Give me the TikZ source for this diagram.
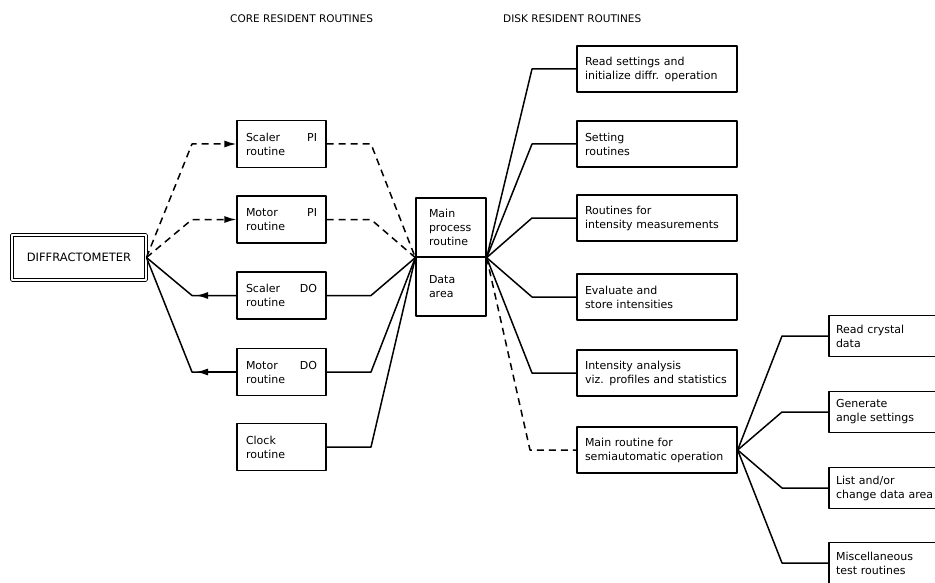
\documentclass[tikz,border=0pt]{standalone}
\usepackage{fontspec}
\setmainfont{DejaVu Sans}
\usetikzlibrary{arrows.meta}
\begin{document}
\begin{tikzpicture}[x=1pt,y=-1pt,line join=round,
  box/.style={draw, line width=1.3pt, align=left, anchor=center, font=\fontsize{11}{14}\selectfont, inner ysep=0pt},
  corebox/.style={box, text width=71pt, inner xsep=9pt, minimum height=47pt},
  diskbox/.style={box, text width=144pt, inner xsep=8pt, minimum height=46pt},
  subbox/.style={box, text width=107pt, inner xsep=7pt, minimum height=41pt},
  mainbox/.style={box, text width=44pt, inner xsep=13pt, minimum height=59pt},
  conn/.style={line width=1.5pt},
  dconn/.style={conn, dash pattern=on 7pt off 5pt},
  tipend/.style={-{Latex[length=12pt,width=7pt]}},
  title/.style={font=\fontsize{10.5}{12}\selectfont, anchor=west, inner sep=0pt}
]
\useasboundingbox (0,0) rectangle (935,583);
\clip (0,0) rectangle (935,583);

% titles
\node[title] (t1) at (230,19) {CORE RESIDENT ROUTINES};
\node[title] (t2) at (503,19) {DISK RESIDENT ROUTINES};

% diffractometer
\node[draw, double, double distance=2pt, line width=0.9pt, minimum width=134pt, minimum height=45pt, inner sep=0pt, font=\fontsize{11.5}{14}\selectfont] (diff) at (79,257.5) {DIFFRACTOMETER};

% core resident
\node[corebox] (spi) at (281.5,144) {Scaler\hfill PI\\routine};
\node[corebox] (mpi) at (281.5,219.5) {Motor\hfill PI\\routine};
\node[corebox] (sdo) at (281.5,295.5) {Scaler\hfill DO\\routine};
\node[corebox] (mdo) at (281.5,372) {Motor\hfill DO\\routine};
\node[corebox] (clk) at (281.5,447) {Clock\\routine};

% main process / data area
\node[mainbox] (mainp) at (451,227.5) {Main\\process\\routine};
\node[mainbox] (data) at (451,286.5) {Data\\area};

% disk resident
\node[diskbox] (d1) at (657,69) {Read settings and\\initialize diffr. operation};
\node[diskbox] (d2) at (657,144) {Setting\\routines};
\node[diskbox] (d3) at (657,218) {Routines for\\intensity measurements};
\node[diskbox] (d4) at (657,297) {Evaluate and\\store intensities};
\node[diskbox] (d5) at (657,373) {Intensity analysis\\viz. profiles and statistics};
\node[diskbox] (d6) at (657,450) {Main routine for\\semiautomatic operation};

% sub routines
\node[subbox] (s1) at (889.5,336) {Read crystal\\data};
\node[subbox] (s2) at (889.5,412) {Generate\\angle settings};
\node[subbox] (s3) at (889.5,488) {List and/or\\change data area};
\node[subbox] (s4) at (889.5,563) {Miscellaneous\\test routines};

% corner coordinates
\coordinate (cl1) at (192,144);
\coordinate (cl2) at (192,219.5);
\coordinate (cl3) at (192,295.5);
\coordinate (cl4) at (192,372);
\coordinate (al3) at (196,295.5);
\coordinate (al4) at (196,372);
\coordinate (cr1) at (371,144);
\coordinate (cr2) at (371,219.5);
\coordinate (cr3) at (371,295.5);
\coordinate (cr4) at (371,372);
\coordinate (cr5) at (371,447);
\coordinate (dc1) at (532,69);
\coordinate (dc2) at (532,144);
\coordinate (dc3) at (532,218);
\coordinate (dc4) at (532,297);
\coordinate (dc5) at (532,373);
\coordinate (dc6) at (530,450);
\coordinate (sc1) at (782,336);
\coordinate (sc2) at (782,412);
\coordinate (sc3) at (782,488);
\coordinate (sc4) at (782,563);

% diffractometer <-> core
\draw[dconn, tipend] (diff.east) -- (cl1) -- (spi.west);
\draw[dconn, tipend] (diff.east) -- (cl2) -- (mpi.west);
\draw[conn] (sdo.west) -- (cl3) -- (diff.east);
\draw[conn, tipend] (sdo.west) -- (al3);
\draw[conn] (mdo.west) -- (cl4) -- (diff.east);
\draw[conn, tipend] (mdo.west) -- (al4);

% core -> main
\draw[dconn] (spi.east) -- (cr1) -- (mainp.south west);
\draw[dconn] (mpi.east) -- (cr2) -- (mainp.south west);
\draw[conn] (sdo.east) -- (cr3) -- (mainp.south west);
\draw[conn] (mdo.east) -- (cr4) -- (mainp.south west);
\draw[conn] (clk.east) -- (cr5) -- (mainp.south west);

% main -> disk
\draw[conn] (mainp.south east) -- (dc1) -- (d1.west);
\draw[conn] (mainp.south east) -- (dc2) -- (d2.west);
\draw[conn] (mainp.south east) -- (dc3) -- (d3.west);
\draw[conn] (mainp.south east) -- (dc4) -- (d4.west);
\draw[conn] (mainp.south east) -- (dc5) -- (d5.west);
\draw[dconn] (mainp.south east) -- (dc6) -- (d6.west);

% semiautomatic -> sub routines
\draw[conn] (d6.east) -- (sc1) -- (s1.west);
\draw[conn] (d6.east) -- (sc2) -- (s2.west);
\draw[conn] (d6.east) -- (sc3) -- (s3.west);
\draw[conn] (d6.east) -- (sc4) -- (s4.west);
\end{tikzpicture}
\end{document}
